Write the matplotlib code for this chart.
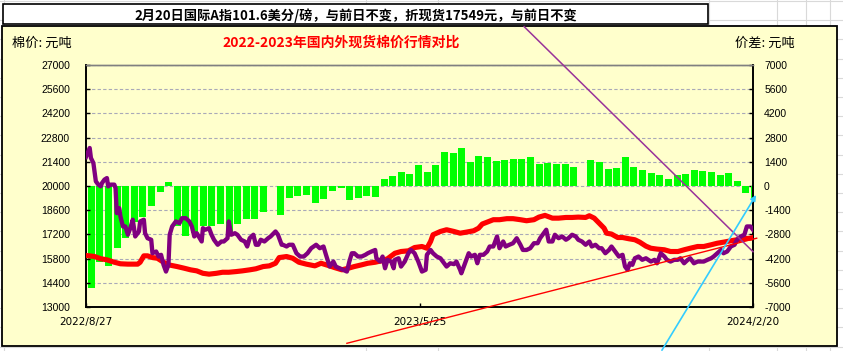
import numpy as np
import pandas as pd
import matplotlib
matplotlib.use('Agg')
import matplotlib.pyplot as plt
import matplotlib.dates as mdates
from matplotlib.patches import Rectangle
from matplotlib.lines import Line2D

plt.rcParams['font.family'] = ['Noto Sans CJK SC', 'DejaVu Sans']

# ---- data (days counted from 2022/8/27) ----
start_date = '2022-08-27'
tick_dates = ['2022-08-27', '2023-05-25', '2024-02-20']

purple_days = [0, 3, 4, 6, 8, 10, 12, 13, 15, 17, 18, 20, 23, 24, 25, 27, 28, 30, 32, 34,
               36, 38, 40, 43, 44, 47, 48, 50, 53, 54, 57, 59, 61, 63, 65, 67, 68, 70, 73, 76,
               78, 81, 84, 86, 88, 90, 94, 95, 97, 100, 102, 104, 107, 110, 112, 115, 116, 118,
               121, 123, 126, 129, 131, 133, 136, 138, 140, 142, 145, 148, 150, 154, 156, 159,
               160, 163, 165, 168, 171, 174, 177, 180, 183, 187, 190, 193, 195, 198, 201, 203,
               206, 209, 212, 214, 216, 218, 221, 224, 227, 229, 232, 235, 236, 239, 241, 243,
               245, 248, 250, 251, 254, 256, 259, 262, 264, 267, 270, 273, 276, 277, 280, 282,
               285, 288, 290, 293, 296, 299, 301, 304, 305, 308, 311, 313, 316, 318, 320, 323,
               326, 328, 331, 334, 336, 339, 341, 344, 347, 350, 353, 355, 358, 361, 364, 367,
               369, 372, 374, 376, 379, 381, 384, 387, 390, 392, 395, 398, 400, 403, 406, 409,
               411, 414, 417, 419, 422, 425, 427, 430, 433, 436, 438, 440, 442, 444, 446, 449,
               452, 455, 459, 462, 464, 467, 470, 472, 475, 478, 481, 483, 486, 489, 491, 494,
               497, 500, 502, 505, 508, 510, 513, 516, 518, 521, 524, 527, 529, 532, 535, 537,
               540, 542]
purple_price = [21680, 22200, 21620, 21330, 20270, 20080, 19980, 20170, 20370, 20460, 19980,
                20080, 20080, 19880, 18430, 18720, 18240, 17660, 17660, 17180, 17560, 18050,
                17080, 17370, 17950, 18050, 17270, 16980, 16890, 16110, 16210, 15920, 16020,
                15440, 15050, 15440, 17180, 17660, 17950, 17850, 18140, 18140, 17950, 17660,
                17080, 17270, 16790, 17560, 17470, 17560, 17180, 16890, 16600, 16790, 16790,
                16980, 17950, 17180, 17270, 17180, 16890, 16790, 16500, 16980, 17180, 16600,
                16600, 16890, 16790, 16980, 17080, 17370, 17180, 16600, 16600, 16500, 16600,
                16600, 16110, 15920, 15920, 16110, 16400, 16600, 16400, 16500, 16020, 15340,
                15630, 15340, 15240, 15150, 15050, 15630, 16110, 16110, 15920, 15920, 16020,
                16110, 16210, 16300, 15820, 15630, 15920, 15240, 15730, 15630, 15240, 15730,
                15820, 15340, 15630, 16110, 16300, 16110, 15630, 15050, 15150, 16020, 16300,
                16110, 15920, 15820, 15630, 15340, 15530, 15480, 15630, 15150, 14950, 15530,
                16110, 15920, 16020, 15530, 16020, 16020, 16210, 16500, 16500, 17080, 16400,
                16790, 16500, 16600, 16690, 16980, 16600, 16300, 16300, 16400, 16690, 16690,
                16980, 17270, 17470, 16790, 16790, 17180, 16980, 17080, 16890, 16980, 17180,
                17080, 16890, 16790, 16600, 16790, 16500, 16600, 16400, 16400, 16110, 16300,
                16500, 16210, 15920, 16020, 15340, 15150, 15530, 15440, 15820, 15920, 15730,
                15820, 15630, 15730, 15530, 16110, 15920, 15730, 15630, 15730, 15730, 15820,
                15530, 15730, 15820, 15530, 15630, 15630, 15630, 15730, 15820, 15920, 16110,
                16300, 16110, 16210, 16500, 16600, 16890, 17080, 17180, 17660, 17660, 17470]

red_days = [0, 7, 12, 17, 23, 28, 34, 42, 44, 47, 50, 54, 58, 63, 67, 74, 80, 85, 90, 95,
            100, 106, 111, 116, 122, 127, 133, 138, 144, 149, 154, 157, 163, 168, 173, 179,
            186, 191, 197, 202, 208, 213, 218, 224, 229, 235, 240, 245, 251, 256, 262, 267,
            273, 277, 280, 282, 288, 293, 299, 304, 309, 315, 319, 322, 326, 331, 336, 342,
            347, 353, 358, 364, 368, 373, 379, 384, 390, 395, 400, 406, 409, 413, 417, 421,
            423, 427, 432, 436, 441, 446, 450, 455, 459, 464, 470, 475, 481, 486, 491, 497,
            502, 508, 513, 518, 524, 529, 535, 540, 542]
red_price = [15980, 15920, 15790, 15730, 15590, 15500, 15480, 15480, 15590, 15960, 15960,
             15860, 15820, 15590, 15440, 15340, 15240, 15150, 15090, 14950, 14900, 14950,
             15010, 15010, 15050, 15090, 15150, 15210, 15340, 15380, 15530, 15860, 15920,
             15820, 15590, 15480, 15380, 15530, 15400, 15280, 15150, 15240, 15340, 15440,
             15530, 15590, 15670, 15790, 16110, 16210, 16250, 16440, 16500, 16400, 16790,
             17180, 17370, 17470, 17370, 17270, 17330, 17410, 17560, 17800, 17910, 18050,
             18050, 18110, 18110, 18050, 17990, 18050, 18200, 18300, 18140, 18140, 18180,
             18180, 18200, 18180, 18280, 18140, 17850, 17560, 17270, 17220, 17020, 17020,
             16950, 16890, 16750, 16520, 16400, 16350, 16310, 16210, 16210, 16310, 16400,
             16500, 16500, 16600, 16690, 16750, 16830, 16890, 16950, 16980, 17020]

# weekly spread (Mon-Fri blocks), NaN = holiday week
week_start = pd.date_range('2022-08-29', periods=78, freq='7D')
spread = [-5900, -4400, -4600, -3600, -3000, -2100, -1800, -1150, -350, 250,
          -2300, -2900, -2700, -2300, -2300, -2200, -2800, -2200, -1900, -1900,
          -1500, np.nan, -1700, -700, -600, -500, -1000, -750, -300, -100,
          -800, -700, -600, -650, 400, 600, 800, 700, 1200, 800,
          1200, 1950, 1900, 2200, 1400, 1750, 1700, 1450, 1500, 1550,
          1550, 1650, 1300, 1350, 1250, 1250, 1100, np.nan, 1500, 1400,
          1000, 1050, 1700, 1100, 900, 750, 650, 420, 650, 700,
          950, 870, 830, 650, 730, 300, -400, -750]

# hand-drawn shapes on the sheet (day, price)
red_trend = ([212, 545], [10900, 16980])
purple_trend = ([356, 542], [29220, 16200])
cyan_arrow = ([468, 544.5], [10500, 19480])

# ---- figure ----
W, H = 843, 351
fig = plt.figure(figsize=(W / 100, H / 100), dpi=100)
fx = lambda px: px / W
fy = lambda py: 1 - py / H

# spreadsheet cell grid behind the chart
for ry in np.arange(1, H, 19.2):
    fig.add_artist(Line2D([0, 1], [fy(ry)] * 2, color='#D9D9D9', lw=0.8, zorder=-5))
for cx in [4, 366, 438, 709, 777, 806, 830]:
    fig.add_artist(Line2D([fx(cx)] * 2, [0, 1], color='#D9D9D9', lw=0.8, zorder=-5))

fig.add_artist(Rectangle((fx(1.5), fy(346)), fx(837.5) - fx(1.5), fy(25.5) - fy(346),
                         transform=fig.transFigure, facecolor='#FFFFCC',
                         edgecolor='black', lw=1.3, zorder=-2))
fig.add_artist(Rectangle((fx(3.5), fy(24)), fx(708) - fx(3.5), fy(4) - fy(24),
                         transform=fig.transFigure, facecolor='white',
                         edgecolor='black', lw=1.2, zorder=-1))
fig.text(fx(356), fy(15.5), '2月20日国际A指101.6美分/磅，与前日不变，折现货17549元，与前日不变',
         ha='center', va='center', fontsize=9.5, fontweight='bold', color='black')
fig.text(fx(341), fy(43), '2022-2023年国内外现货棉价行情对比', ha='center', va='center',
         fontsize=10, fontweight='bold', color='#FF0000')
fig.text(fx(12), fy(43), '棉价: 元吨', ha='left', va='center', fontsize=9.5)
fig.text(fx(735), fy(43), '价差: 元吨', ha='left', va='center', fontsize=9.5)

ax2 = fig.add_axes([fx(86), fy(307), fx(753) - fx(86), fy(65) - fy(307)])
ax1 = ax2.twinx()
ax1.set_zorder(ax2.get_zorder() + 1)
ax1.patch.set_visible(False)
ax2.patch.set_visible(False)

x0 = mdates.date2num(pd.Timestamp(start_date))

# spread bars on the right axis
wx = mdates.date2num(week_start)
ax2.bar(wx - 0.6, spread, width=5.7, align='edge', color='#00FF00', lw=0, zorder=2)
ax2.set_ylim(-7000, 7000)
ax2.set_yticks(np.arange(-7000, 7001, 1400))
ax2.yaxis.tick_right()
ax2.set_yticklabels([str(int(v)) for v in np.arange(-7000, 7001, 1400)])
ax2.set_axisbelow(True)
ax2.yaxis.grid(True, color='#A9A9B8', lw=0.8, linestyle=(0, (3, 2)))

# price lines on the left axis
ax1.yaxis.tick_left()
ax1.plot(x0 + np.array(red_days), red_price, color='#FF0000', lw=3.7,
         solid_joinstyle='round', zorder=3)
ax1.plot(x0 + np.array(purple_days), purple_price, color='#800080', lw=3.1,
         solid_joinstyle='round', zorder=4)
ax1.set_ylim(13000, 27000)
ax1.set_yticks(np.arange(13000, 27001, 1400))
ax1.set_yticklabels([str(int(v)) for v in np.arange(13000, 27001, 1400)])

xlim = (x0, mdates.date2num(pd.Timestamp(tick_dates[-1])))
for a in (ax1, ax2):
    a.set_xlim(*xlim)
tk = [pd.Timestamp(d) for d in tick_dates]
ax2.set_xticks(mdates.date2num(tk))
ax2.set_xticklabels([f'{d.year}/{d.month}/{d.day}' for d in tk],
                    fontfamily='DejaVu Sans', fontsize=7.5)

# sheet drawings, not clipped to the plot area
ax1.plot(x0 + np.array(red_trend[0]), red_trend[1], color='#FF0000', lw=1.0,
         clip_on=False, zorder=6)
ax1.plot(x0 + np.array(purple_trend[0]), purple_trend[1], color='#993399', lw=1.1,
         clip_on=False, zorder=6)
ax1.annotate('', xy=(x0 + cyan_arrow[0][1], cyan_arrow[1][1]),
             xytext=(x0 + cyan_arrow[0][0], cyan_arrow[1][0]),
             arrowprops=dict(arrowstyle='-|>', color='#33CCFF', lw=1.2, mutation_scale=8,
                             shrinkA=0, shrinkB=0),
             annotation_clip=False, zorder=7)

# axes styling
for a in (ax1, ax2):
    for s in ('left', 'right', 'bottom'):
        a.spines[s].set_color('black')
        a.spines[s].set_linewidth(1.2)
    a.spines['top'].set_color('#808080')
    a.spines['top'].set_linewidth(1.0)
ax1.tick_params(axis='y', direction='in', length=3, width=1, pad=11.5, labelsize=7.5)
ax2.tick_params(axis='y', direction='in', length=3, width=1, pad=8, labelsize=7.5)
ax2.tick_params(axis='x', direction='in', length=3, width=1, pad=7)
ax1.tick_params(axis='x', bottom=False, labelbottom=False)
for lab in ax1.get_yticklabels() + ax2.get_yticklabels():
    lab.set_fontfamily('Liberation Sans')

fig.savefig('out.png', dpi=100)
